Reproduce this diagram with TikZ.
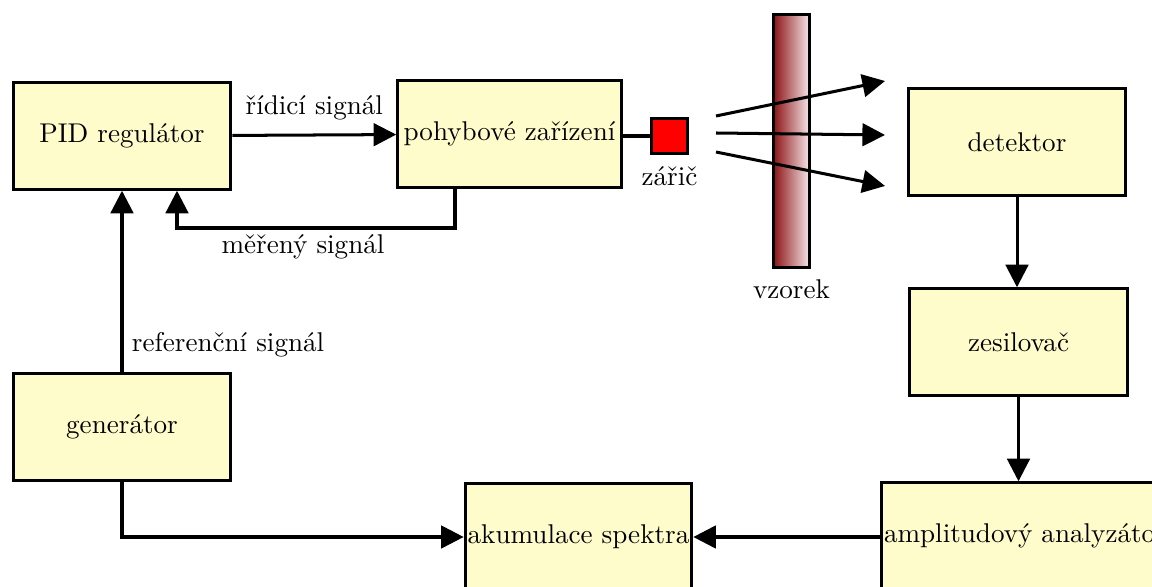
\documentclass[tikz,border=0pt]{standalone}
\usepackage{tikz}
\usetikzlibrary{calc,positioning,arrows.meta}

\tikzset{
  blok/.style={draw, line width=1.2pt, fill=yellow!20, minimum width=3.05cm,
    minimum height=1.49cm, inner xsep=1pt, font=\fontsize{10.8}{13}\selectfont},
  sig/.style={line width=1.2pt, -{Triangle[length=9pt,width=9pt]}},
  popis/.style={font=\fontsize{10.8}{13}\selectfont},
}

\begin{document}
\begin{tikzpicture}[x=1.4cm,y=1.4cm]
\useasboundingbox (0,0) rectangle (11.52,5.87);
\clip (0,0) rectangle (11.52,5.87);
% regulation loop
\node[blok] (pid) at (1.22,4.51) {PID regulátor};
\node[blok, minimum width=3.13cm] (pohyb) at (5.095,4.53) {pohybové zařízení};
\node[blok] (gen) at (1.22,1.60) {generátor};
\draw[sig] (pid) -- (pohyb) node[popis,midway,above=2pt] {řídicí signál};
\draw[sig] (pohyb.south -| 4.55,0) |- (1.77,3.59) coordinate (zpet) -- (zpet |- pid.south);
\node[popis] (mer) at (3.03,3.40) {měřený signál};
\draw[sig] (gen) -- (pid) node[popis,pos=0.15,right=0pt] {referenční signál};
% source and sample
\node[draw, line width=1.2pt, fill=red, minimum size=0.5cm, inner sep=0pt] (zdroj) at (6.695,4.51) {};
\node[popis, below=1pt of zdroj] (zdrojtxt) {zářič};
\draw[line width=1.2pt] (pohyb.east |- zdroj) -- (zdroj);
\node[draw, line width=1.2pt, minimum width=0.5cm, minimum height=3.53cm, inner sep=0pt,
  left color={rgb,255:red,140;green,20;blue,22}, right color={rgb,255:red,246;green,230;blue,232}]
  (vzorek) at (7.915,4.46) {};
\node[popis, below=1pt of vzorek] (vzorektxt) {vzorek};
\coordinate (p1) at (7.16,4.71);
\coordinate (p2) at (7.16,4.54);
\coordinate (p3) at (7.16,4.35);
\draw[sig] (p1) -- (8.85,5.06);
\draw[sig] (p2) -- (8.85,4.52);
\draw[sig] (p3) -- (8.85,4.01);
% detection chain
\node[blok] (det) at (10.17,4.45) {detektor};
\node[blok] (zes) at (10.185,2.45) {zesilovač};
\node[blok, anchor=west] (ana) at (8.80,0.51) {amplitudový analyzátor};
\node[blok] (akum) at (5.785,0.50) {akumulace spektra};
\draw[sig] (det) -- (det |- zes.north);
\draw[sig] (zes) -- (zes |- ana.north);
\draw[sig] (ana.west |- akum) -- (akum);
\draw[sig] (gen) |- (akum);
\end{tikzpicture}
\end{document}
